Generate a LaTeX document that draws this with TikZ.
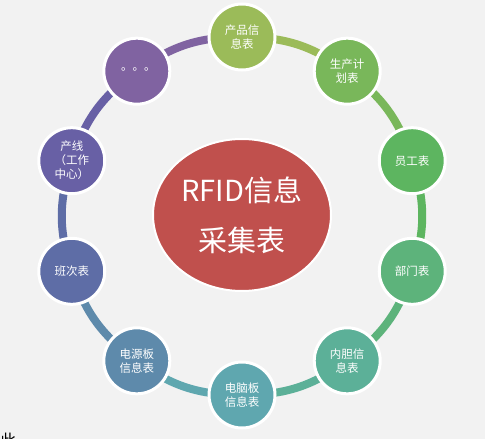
\documentclass[tikz,border=0pt]{standalone}
\usepackage{fontspec}
\setmainfont{Noto Sans CJK SC}
\usepackage{tikz}
\usetikzlibrary{positioning, calc, shapes.geometric, backgrounds}

% colori dei nodi (in senso orario, dall'alto)
\definecolor{sfondo}{HTML}{F2F2F2}
\definecolor{centro}{HTML}{C0504D}
\definecolor{cProdotto}{HTML}{9BBB59}
\definecolor{cPiano}{HTML}{79B75A}
\definecolor{cPersonale}{HTML}{5DB560}
\definecolor{cReparto}{HTML}{5DB37B}
\definecolor{cInterno}{HTML}{5CB098}
\definecolor{cScheda}{HTML}{5FA7AF}
\definecolor{cAlimentatore}{HTML}{5E8AAB}
\definecolor{cTurno}{HTML}{5E6DA6}
\definecolor{cLinea}{HTML}{6860A5}
\definecolor{cAltro}{HTML}{8063A1}

\begin{document}
\begin{tikzpicture}[x=1pt, y=-1pt]
    % Stili per i cerchi dell'anello e per i tratti di collegamento
    \tikzset{
        tabella/.style={
            circle,
            draw=white,
            line width=3pt,
            minimum size=66pt,
            inner sep=0pt,
            text=white,
            align=center,
            font=\fontsize{11.5}{14}\selectfont
        },
        anello/.style={
            line width=8pt,
            bend left=18
        }
    }

    % Sfondo e dimensioni del disegno
    \useasboundingbox (0,0) rectangle (485,439);

    % Centro dell'anello
    \coordinate (O) at (242,216);

    % --- Nodi dell'anello (raggio 179, passo 36 gradi) ---
    \node[tabella, fill=cProdotto]     (prodotto)     at ($(O)+(-90:179)$) {产品信\\息表};
    \node[tabella, fill=cPiano]        (piano)        at ($(O)+(-54:179)$) {生产计\\划表};
    \node[tabella, fill=cPersonale]    (personale)    at ($(O)+(-18:179)$) {员工表};
    \node[tabella, fill=cReparto]      (reparto)      at ($(O)+(18:179)$)  {部门表};
    \node[tabella, fill=cInterno]      (interno)      at ($(O)+(54:179)$)  {内胆信\\息表};
    \node[tabella, fill=cScheda]       (scheda)       at ($(O)+(90:179)$)  {电脑板\\信息表};
    \node[tabella, fill=cAlimentatore] (alimentatore) at ($(O)+(126:179)$) {电源板\\信息表};
    \node[tabella, fill=cTurno]        (turno)        at ($(O)+(162:179)$) {班次表};
    \node[tabella, fill=cLinea]        (linea)        at ($(O)+(198:179)$) {产线\\（工作\\中心）};
    \node[tabella, fill=cAltro]        (altro)        at ($(O)+(234:179)$) {\raisebox{4pt}{\hspace{3pt}。。。}};

    % --- Archi di collegamento (colore del nodo di partenza), dietro ai nodi ---
    \begin{scope}[on background layer]
        \fill[sfondo] (0,0) rectangle (485,439);
        \foreach \da/\a/\col in {prodotto/piano/cProdotto, piano/personale/cPiano,
                                 personale/reparto/cPersonale, reparto/interno/cReparto,
                                 interno/scheda/cInterno, scheda/alimentatore/cScheda,
                                 alimentatore/turno/cAlimentatore, turno/linea/cTurno,
                                 linea/altro/cLinea, altro/prodotto/cAltro} {
            \draw[anello, \col] (\da.center) to (\a.center);
        }
    \end{scope}

    % --- Ellisse centrale ---
    \node[ellipse, fill=centro, draw=white, line width=2pt,
          minimum width=178pt, minimum height=152pt, inner sep=0pt,
          text=white, align=center, font=\fontsize{29}{50}\selectfont]
          (rfid) at (242,215) {RFID信息\\采集表};

    % Testo tagliato in basso a sinistra
    \node[anchor=north west, inner sep=0pt, font=\fontsize{16}{16}\selectfont]
          (nota) at (0,433) {此};
\end{tikzpicture}
\end{document}
